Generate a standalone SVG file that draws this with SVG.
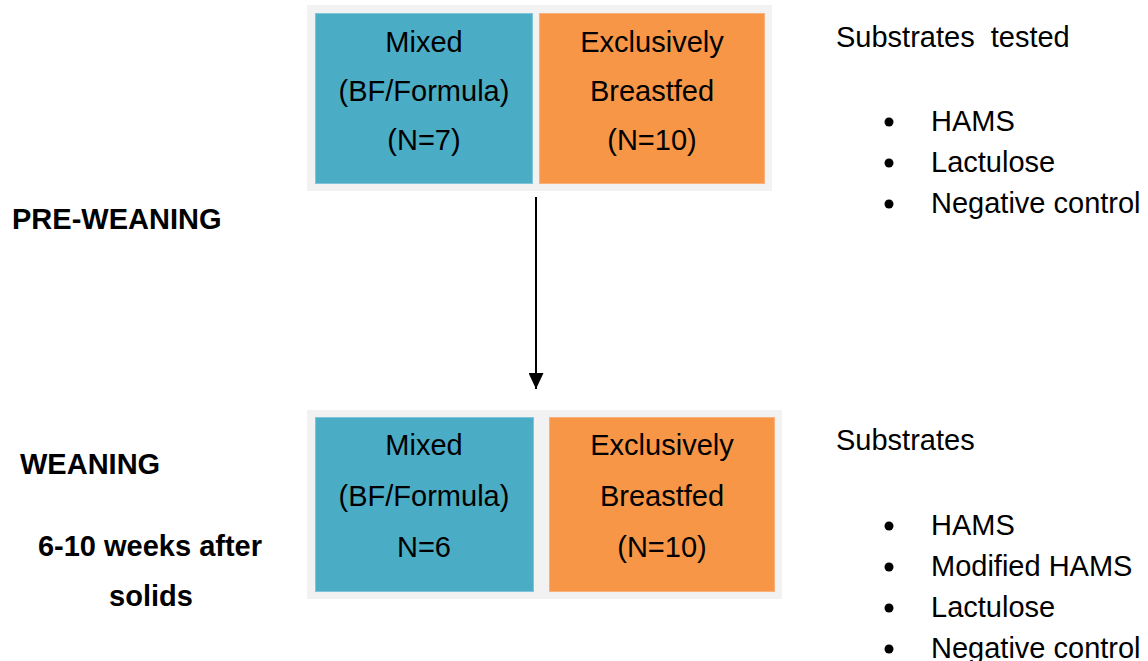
<svg xmlns="http://www.w3.org/2000/svg" width="1148" height="661" viewBox="0 0 1148 661">
<style>
.t{font-family:"Liberation Sans",Arial,sans-serif;font-size:29px;fill:#000}
.c{text-anchor:middle}
.b{font-weight:bold;font-size:29px}
.frame{fill:#F2F2F2}
.blue{fill:#4BACC6;stroke:#7FC4D8;stroke-width:1}
.orange{fill:#F79646;stroke:#F9B07A;stroke-width:1}
</style>
<defs>
<marker id="ah" viewBox="0 0 16 15" refX="16" refY="7.5" markerWidth="16" markerHeight="15" markerUnits="userSpaceOnUse" orient="auto">
<path d="M0,0 L16,7.5 L0,15 Z" fill="#000"/>
</marker>
</defs>
<rect width="1148" height="661" fill="#fff"/>
<g id="pre-frame"><rect class="frame" x="307" y="5" width="465" height="186"/></g>
<g id="pre-mixed">
<rect class="blue" x="315.5" y="13.5" width="217" height="170"/>
<text class="t c" x="424" y="52">Mixed</text>
<text class="t c" x="424" y="101">(BF/Formula)</text>
<text class="t c" x="424" y="150">(N=7)</text>
</g>
<g id="pre-bf">
<rect class="orange" x="539.5" y="13.5" width="225" height="170"/>
<text class="t c" x="652" y="52">Exclusively</text>
<text class="t c" x="652" y="101">Breastfed</text>
<text class="t c" x="652" y="150">(N=10)</text>
</g>
<g id="wean-frame"><rect class="frame" x="307" y="410" width="475" height="189"/></g>
<g id="wean-mixed">
<rect class="blue" x="315.5" y="417.5" width="218" height="174"/>
<text class="t c" x="424" y="455">Mixed</text>
<text class="t c" x="424" y="506">(BF/Formula)</text>
<text class="t c" x="424" y="557">N=6</text>
</g>
<g id="wean-bf">
<rect class="orange" x="549.5" y="417.5" width="225" height="174"/>
<text class="t c" x="662" y="455">Exclusively</text>
<text class="t c" x="662" y="506">Breastfed</text>
<text class="t c" x="662" y="557">(N=10)</text>
</g>
<g id="labels">
<text class="t b" x="12" y="229">PRE-WEANING</text>
<text class="t b" x="20" y="474">WEANING</text>
<text class="t b c" x="150" y="556">6-10 weeks after</text>
<text class="t b c" x="151" y="606">solids</text>
</g>
<g id="substrates-pre">
<text class="t" x="836" y="47" xml:space="preserve">Substrates  tested</text>
<circle cx="889" cy="122" r="4.5"/>
<text class="t" x="931" y="131">HAMS</text>
<circle cx="889" cy="163" r="4.5"/>
<text class="t" x="931" y="172">Lactulose</text>
<circle cx="889" cy="204" r="4.5"/>
<text class="t" x="931" y="213">Negative control</text>
</g>
<g id="substrates-wean">
<text class="t" x="836" y="450">Substrates</text>
<circle cx="889" cy="526" r="4.5"/>
<text class="t" x="931" y="535">HAMS</text>
<circle cx="889" cy="567" r="4.5"/>
<text class="t" x="931" y="576">Modified HAMS</text>
<circle cx="889" cy="608" r="4.5"/>
<text class="t" x="931" y="617">Lactulose</text>
<circle cx="889" cy="649" r="4.5"/>
<text class="t" x="931" y="658">Negative control</text>
</g>
<g id="connectors">
<line x1="536" y1="197" x2="536" y2="389" stroke="#000" stroke-width="2" marker-end="url(#ah)"/>
</g>
</svg>
